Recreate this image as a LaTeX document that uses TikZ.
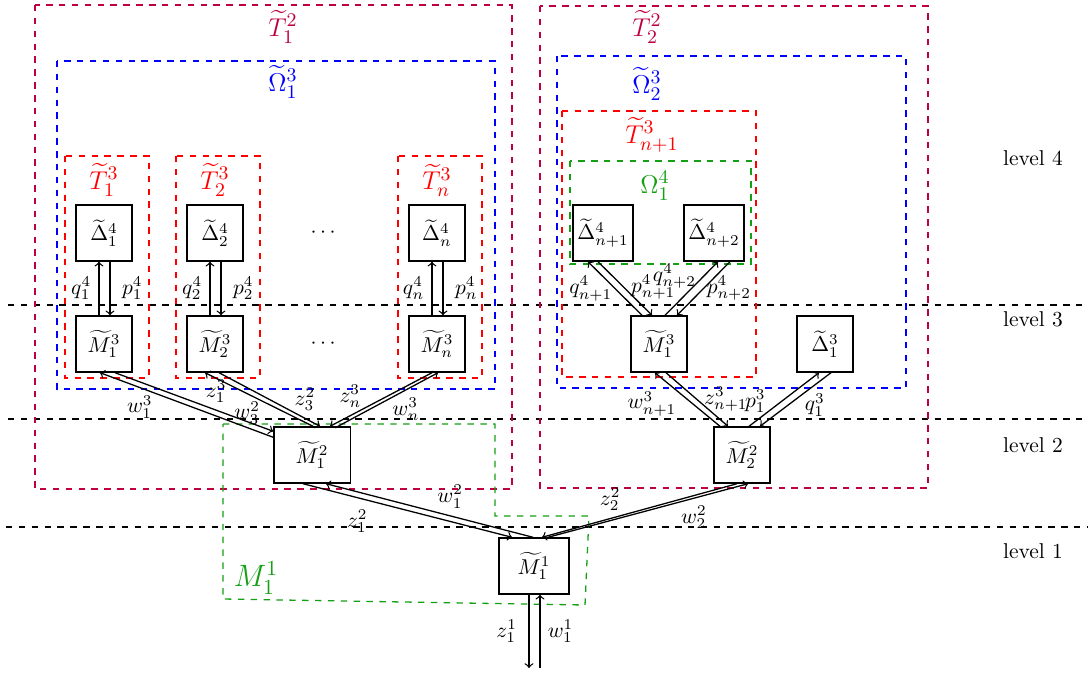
\documentclass[tikz,border=0pt]{standalone}
\usepackage{amssymb,amsmath}
\usepackage{tikz}
\usetikzlibrary{calc}

\definecolor{grn}{RGB}{20,160,20}

\tikzset{
  blk/.style={draw, semithick, minimum size=0.92cm, inner sep=2pt},
  region/.style={dashed, semithick},
  reglab/.style={font=\fontsize{13}{15}\selectfont},
  link/.style={->, semithick},
  levline/.style={dashed, semithick},
}

\begin{document}
\begin{tikzpicture}[x=0.01639cm, y=-0.01639cm]
\useasboundingbox (0,0) rectangle (1090,677);

% levels
\draw[levline] (8,305) -- (1086,305);
\draw[levline] (8,419) -- (1086,419);
\draw[levline] (6,527) -- (1088,527);
\node (lev4) at (1033,158) {level 4};
\node (lev3) at (1033,319) {level 3};
\node (lev2) at (1033,445) {level 2};
\node (lev1) at (1033,551) {level 1};

% regions
\draw[region, purple] (35,5) rectangle (512,489);
\draw[region, purple] (540,6) rectangle (928,488);
\draw[region, blue] (57,61) rectangle (495,389);
\draw[region, blue] (557,56) rectangle (906,388);
\draw[region, red] (65,156) rectangle (149,378);
\draw[region, red] (176,156) rectangle (260,378);
\draw[region, red] (398,156) rectangle (482,378);
\draw[region, red] (562,111) rectangle (756,377);
\draw[region, grn] (570,161) rectangle (751,264);
\draw[region, grn] (223,424) -- (495,424) -- (495,516) -- (589,516) -- (585,605) -- (223,599) -- cycle;

\node[reglab, purple] (t12) at (283,27) {$\widetilde{T}^2_1$};
\node[reglab, purple] (t22) at (647,27) {$\widetilde{T}^2_2$};
\node[reglab, blue] (o13) at (283,82) {$\widetilde{\Omega}^3_1$};
\node[reglab, blue] (o23) at (647,84) {$\widetilde{\Omega}^3_2$};
\node[reglab, red] (t13) at (104,180) {$\widetilde{T}^3_1$};
\node[reglab, red] (t23) at (215,180) {$\widetilde{T}^3_2$};
\node[reglab, red] (tn3) at (437,180) {$\widetilde{T}^3_n$};
\node[reglab, red] (tn13) at (652,135) {$\widetilde{T}^3_{n+1}$};
\node[reglab, grn] (o14) at (655,186) {$\Omega^4_1$};
\node[grn, font=\fontsize{14.5}{17}\selectfont] (m11lab) at (256,578) {$M^1_1$};

% level 4 boxes
\node[blk] (D14) at (104,233) {$\widetilde{\Delta}^4_1$};
\node[blk] (D24) at (215,233) {$\widetilde{\Delta}^4_2$};
\node (dots4) at (325,233) {$\cdots$};
\node[blk] (Dn4) at (437,233) {$\widetilde{\Delta}^4_n$};
\node[blk] (Dn14) at (603,233) {$\widetilde{\Delta}^4_{n+1}$};
\node[blk] (Dn24) at (714,233) {$\widetilde{\Delta}^4_{n+2}$};

% level 3 boxes
\node[blk] (M13) at (104,344) {$\widetilde{M}^3_1$};
\node[blk] (M23) at (215,344) {$\widetilde{M}^3_2$};
\node (dots3) at (325,344) {$\cdots$};
\node[blk] (Mn3) at (437,344) {$\widetilde{M}^3_n$};
\node[blk] (M13r) at (659,344) {$\widetilde{M}^3_1$};
\node[blk] (D13) at (825,344) {$\widetilde{\Delta}^3_1$};

% level 2 and 1 boxes
\node[blk, minimum width=1.25cm] (M12) at (312,455) {$\widetilde{M}^2_1$};
\node[blk] (M22) at (742,455) {$\widetilde{M}^2_2$};
\node[blk, minimum width=1.15cm] (M11) at (534,566) {$\widetilde{M}^1_1$};
\coordinate (zout) at (529,668);
\coordinate (win) at (540,668);

% level 4 <-> level 3
\draw[link] ($(M13.north)+(-5,0)$) -- node[left] {$q^4_1$} ($(D14.south)+(-5,0)$);
\draw[link] ($(D14.south)+(6,0)$) -- node[right=2pt] {$p^4_1$} ($(M13.north)+(6,0)$);
\draw[link] ($(M23.north)+(-5,0)$) -- node[left] {$q^4_2$} ($(D24.south)+(-5,0)$);
\draw[link] ($(D24.south)+(6,0)$) -- node[right=2pt] {$p^4_2$} ($(M23.north)+(6,0)$);
\draw[link] ($(Mn3.north)+(-5,0)$) -- node[left] {$q^4_n$} ($(Dn4.south)+(-5,0)$);
\draw[link] ($(Dn4.south)+(6,0)$) -- node[right=2pt] {$p^4_n$} ($(Mn3.north)+(6,0)$);

\draw[link] ($(M13r.north)+(-17,0)$) -- node[pos=.5, left, inner sep=1pt] {$q^4_{n+1}$} ($(Dn14.south)+(-15,0)$);
\draw[link] ($(Dn14.south)+(-5,0)$) -- node[pos=.47, right] {$p^4_{n+1}$} ($(M13r.north)+(-7,0)$);
\draw[link] ($(M13r.north)+(6,0)$) -- node[pos=.73, left] {$q^4_{n+2}$} ($(Dn24.south)+(4,0)$);
\draw[link] ($(Dn24.south)+(16,0)$) -- node[pos=.49, right, inner sep=1pt] {$p^4_{n+2}$} ($(M13r.north)+(18,0)$);

% level 3 <-> level 2
\draw[link] ($(M12.north west)+(0,11)$) -- node[pos=.77, below] {$w^3_1$} ($(M13.south)+(-4,0)$);
\draw[link] ($(M13.south)+(11,0)$) -- node[pos=.64, above] {$z^3_1$} ($(M12.north west)+(0,5)$);
\draw[link] ($(M12.north)+(1,0)$) -- node[pos=.61, below] {$w^2_3$} ($(M23.south)+(-10,0)$);
\draw[link] ($(M23.south)+(4,0)$) -- node[pos=.85, above] {$z^2_3$} ($(M12.north)+(8,0)$);
\draw[link] ($(Mn3.south)+(-5,0)$) -- node[pos=.8, above] {$z^3_n$} ($(M12.north)+(18,0)$);
\draw[link] ($(M12.north)+(26,0)$) -- node[pos=.68, below] {$w^3_n$} ($(Mn3.south)+(1,0)$);

\draw[link] ($(M22.north)+(-22,0)$) -- node[pos=.42, left=4pt] {$w^3_{n+1}$} ($(M13r.south)+(-4,0)$);
\draw[link] ($(M13r.south)+(7,0)$) -- node[pos=.49, right] {$z^3_{n+1}$} ($(M22.north)+(-14,0)$);
\draw[link] ($(M22.north)+(7,0)$) -- node[pos=.47, left=4pt] {$p^3_1$} ($(D13.south)+(-6,0)$);
\draw[link] ($(D13.south)+(6,0)$) -- node[pos=.6, right=4pt] {$q^3_1$} ($(M22.north)+(18,0)$);

% level 2 <-> level 1
\draw[link] ($(M12.south)+(-9,0)$) -- node[pos=.26, below=2pt] {$z^2_1$} ($(M11.north)+(-22,0)$);
\draw[link] ($(M11.north)+(-1,0)$) -- node[pos=.4, above] {$w^2_1$} ($(M12.south)+(14,0)$);
\draw[link] ($(M22.south)+(-5,0)$) -- node[pos=.65, above] {$z^2_2$} ($(M11.north)+(8,0)$);
\draw[link] ($(M11.north)+(14,0)$) -- node[pos=.73, below] {$w^2_2$} ($(M22.south)+(6,0)$);

% level 1 out
\draw[link] ($(M11.south)+(-5,0)$) -- node[left=2pt] {$z^1_1$} (zout);
\draw[link] (win) -- node[right] {$w^1_1$} ($(M11.south)+(6,0)$);
\end{tikzpicture}
\end{document}
